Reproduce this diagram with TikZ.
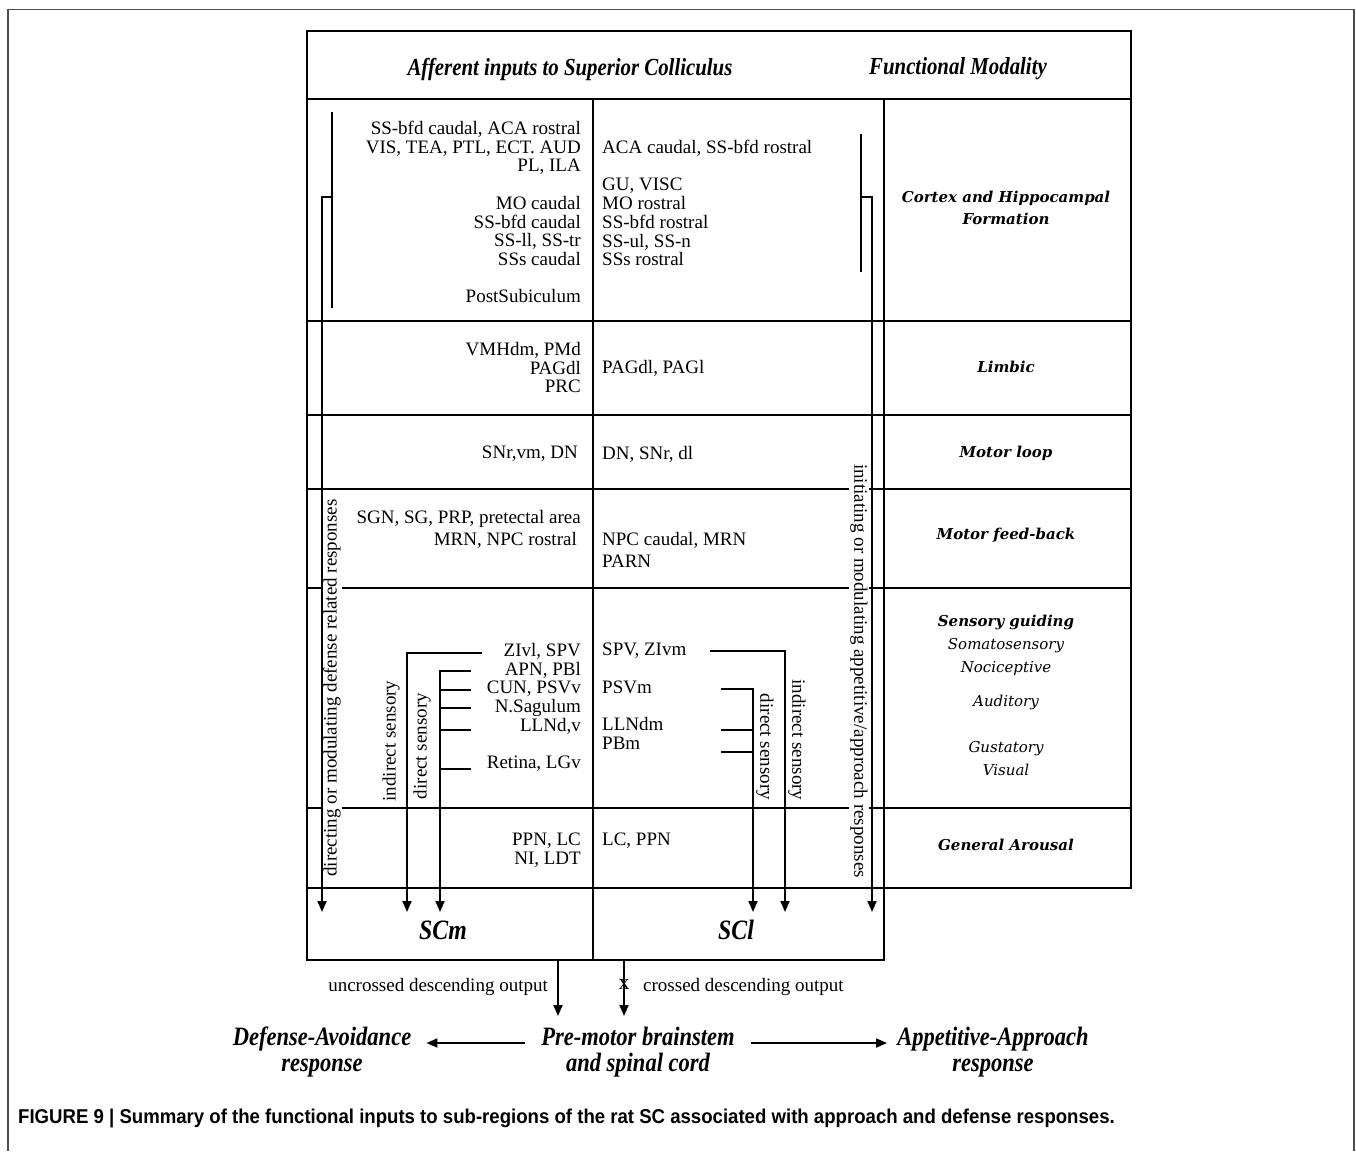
\documentclass[tikz,border=0pt]{standalone}
\usepackage{fontspec}
\setmainfont{Liberation Serif}
\newfontfamily\headfont[FakeStretch=0.85]{Liberation Serif}
\newfontfamily\modfont{DejaVu Serif}
\newfontfamily\capfont[FakeStretch=0.93]{Liberation Sans}
\usetikzlibrary{arrows.meta}

\tikzset{
  grid/.style={line width=1.8pt, line cap=rect},
  tick/.style={line width=1.8pt},
  arr/.style={line width=1.8pt, -{Triangle[length=11pt,width=9pt]}},
  lft/.style={font=\fontsize{19}{18.7}\selectfont, inner sep=0pt, align=right, anchor=north east},
  rgt/.style={font=\fontsize{19}{18.7}\selectfont, inner sep=0pt, align=left, anchor=north west},
  vtext/.style={font=\fontsize{19}{18.7}\selectfont, inner sep=1.5pt, fill=white},
  modality/.style={font=\modfont\bfseries\itshape\fontsize{15}{22}\selectfont, align=center, inner sep=0pt},
  sense/.style={font=\modfont\itshape\fontsize{15}{23}\selectfont, align=center, inner sep=0pt},
  heading/.style={font=\headfont\bfseries\itshape\fontsize{24.5}{26}\selectfont, inner sep=0pt},
  outcome/.style={font=\headfont\bfseries\itshape\fontsize{26.5}{26}\selectfont, align=center, inner sep=0pt},
}

\begin{document}
\begin{tikzpicture}[x=1pt,y=-1pt]
\useasboundingbox (0,0) rectangle (1356,1151);

% outer frame of the figure
\draw[black!70, line width=1.3pt] (8,1151) |- (1354,9.5) -- (1354,1151);

% table
\draw[grid] (307,960) -- (307,31) -- (1131,31) -- (1131,888);
\foreach \y in {99,321,415,489,588,808,888}
  \draw[grid] (307,\y) -- (1131,\y);
\draw[grid] (593,99) -- (593,960) (884,99) -- (884,960) (307,960) -- (884,960);

% header
\node[heading] (afferent) at (570,69) {Afferent inputs to Superior Colliculus};
\node[heading] (functional) at (958,69) {Functional Modality};

% Cortex and Hippocampal Formation
\node[lft] (ctxL) at (581,121) {SS-bfd caudal, ACA rostral\\VIS, TEA, PTL, ECT. AUD\\PL, ILA\\[18.7pt]
  MO caudal\\SS-bfd caudal\\SS-ll, SS-tr\\SSs caudal\\[18.7pt]PostSubiculum};
\node[rgt] (ctxR) at (602,140) {ACA caudal, SS-bfd rostral\\[18.7pt]GU, VISC\\MO rostral\\SS-bfd rostral\\SS-ul, SS-n\\SSs rostral};
\node[modality] (ctx) at (1006,208) {Cortex and Hippocampal\\Formation};

% Limbic
\node[lft] (limL) at (581,342) {VMHdm, PMd\\PAGdl\\PRC};
\node[rgt] (limR) at (602,360) {PAGdl, PAGl};
\node[modality] (lim) at (1006,367) {Limbic};

% Motor loop
\node[lft] (loopL) at (578,446) {SNr,vm, DN};
\node[rgt] (loopR) at (602,446) {DN, SNr, dl};
\node[modality] (loop) at (1006,453) {Motor loop};

% Motor feed-back
\node[lft] (fbL) at (581,510) {SGN, SG, PRP, pretectal area};
\node[lft] (fbL2) at (577,532) {MRN, NPC rostral};
\node[rgt] (fbR) at (602,532) {NPC caudal, MRN\\[3pt]PARN};
\node[modality] (fb) at (1006,535) {Motor feed-back};

% Sensory guiding
\node[lft] (senL) at (581,643) {ZIvl, SPV\\APN, PBl\\CUN, PSVv\\N.Sagulum\\LLNd,v\\[18.7pt]Retina, LGv};
\node[rgt] (senR) at (602,643) {SPV, ZIvm\\[18.7pt]PSVm\\[18.7pt]LLNdm\\PBm};
\node[modality] (sen) at (1006,622) {Sensory guiding};
\node[sense] (soma) at (1006,656.5) {Somatosensory\\Nociceptive};
\node[sense] (audi) at (1006,702) {Auditory};
\node[sense] (gust) at (1006,759) {Gustatory\\Visual};

% General Arousal
\node[lft] (arL) at (581,833) {PPN, LC\\NI, LDT};
\node[rgt] (arR) at (602,833) {LC, PPN};
\node[modality] (ar) at (1006,845) {General Arousal};

% pathway labels
\node[vtext, rotate=90] (defpath) at (332,688) {directing or modulating defense related responses};
\node[vtext, rotate=-90] (apppath) at (859,671) {initiating or modulating appetitive/approach responses};
\node[vtext, rotate=90] (indL) at (391,741) {indirect sensory};
\node[vtext, rotate=90] (dirL) at (422,746) {direct sensory};
\node[vtext, rotate=-90] (dirR) at (765,747) {direct sensory};
\node[vtext, rotate=-90] (indR) at (797,740) {indirect sensory};

% brackets and inputs
\draw[tick] (332,112) -- (332,308);
\draw[arr] (332,197) -| (322,912);
\draw[tick] (861,134) -- (861,272);
\draw[arr] (861,197) -| (872,912);
\draw[arr] (482,653) -| (407,912);
\draw[arr] (471,671) -| (440,912);
\foreach \y in {690,708,730,769}
  \draw[tick] (440,\y) -- (471,\y);
\draw[arr] (710,651) -| (785,912);
\draw[arr] (721,689) -| (753,912);
\foreach \y in {730,752}
  \draw[tick] (721,\y) -- (753,\y);

% SC sub-regions
\node[heading, font=\headfont\bfseries\itshape\fontsize{28}{28}\selectfont] (scm) at (443,930) {SCm};
\node[heading, font=\headfont\bfseries\itshape\fontsize{28}{28}\selectfont] (scl) at (736,930) {SCl};

% outputs
\node[outcome] (premotor) at (638,1052) {Pre-motor brainstem\\and spinal cord};
\node[outcome] (defense) at (322,1052) {Defense-Avoidance\\response};
\node[outcome] (appetitive) at (993,1052) {Appetitive-Approach\\response};
\coordinate (uncrossed) at (558,960);
\coordinate (crossed) at (624,960);
\draw[arr] (uncrossed) -- ++(0,56);
\draw[arr] (crossed) -- ++(0,56);
\node[font=\fontsize{22}{22}\selectfont, inner sep=0pt] (cross) at (624,984) {x};
\node[font=\fontsize{19}{19}\selectfont, inner sep=0pt, anchor=east] (unlabel) at (548,987) {uncrossed descending output};
\node[font=\fontsize{19}{19}\selectfont, inner sep=0pt, anchor=west] (crlabel) at (643,987) {crossed descending output};
\draw[arr] ([yshift=9pt,xshift=-16pt]premotor.west) -- ([yshift=9pt,xshift=15pt]defense.east);
\draw[arr] ([yshift=9pt,xshift=16pt]premotor.east) -- ([yshift=9pt,xshift=-10pt]appetitive.west);

% caption
\node[anchor=west, inner sep=0pt, font=\capfont\bfseries\fontsize{20}{22}\selectfont] (caption) at (18,1118)
  {FIGURE 9 | Summary of the functional inputs to sub-regions of the rat SC associated with approach and defense responses.};

\end{tikzpicture}
\end{document}
